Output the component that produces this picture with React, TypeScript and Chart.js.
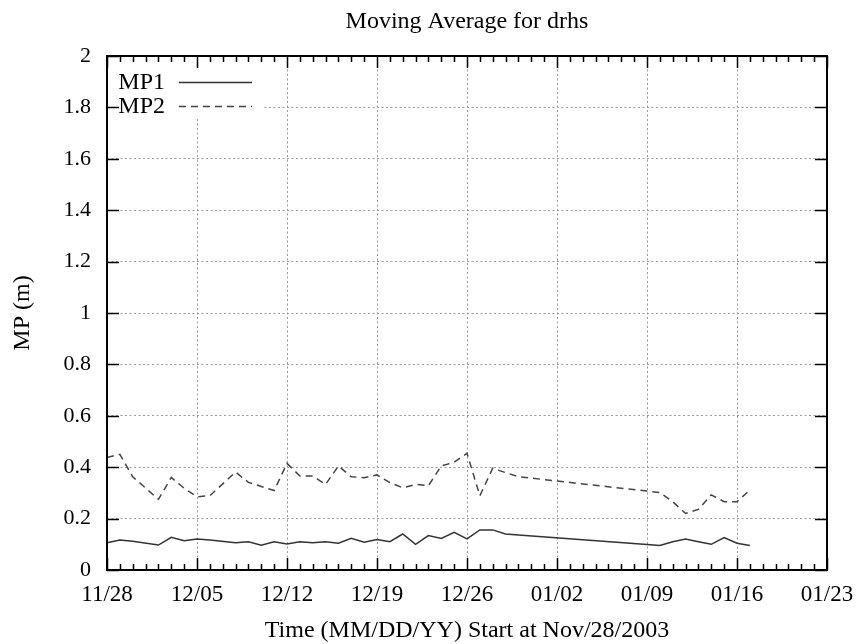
import React, { useEffect, useRef } from "react";
import { Chart, registerables } from "chart.js";

Chart.register(...registerables);

const chartTitle = "Moving Average for drhs";
const xAxisTitle = "Time (MM/DD/YY) Start at Nov/28/2003";
const yAxisTitle = "MP (m)";
const xTickLabels = ["11/28", "12/05", "12/12", "12/19", "12/26", "01/02", "01/09", "01/16", "01/23"];
const seriesNames = ["MP1", "MP2"];

// day offsets from Nov/28/2003
const days = [0, 1, 2, 4, 5, 6, 7, 8, 10, 11, 12, 13, 14, 15, 16, 17, 18, 19, 20, 21, 22, 23, 24, 25, 26, 27, 28, 29, 30, 31, 32, 42, 43, 44, 45, 46, 47, 48, 49, 50];
const mp1 = [0.106, 0.117, 0.112, 0.097, 0.127, 0.114, 0.121, 0.117, 0.106, 0.11, 0.096, 0.11, 0.101, 0.11, 0.106, 0.11, 0.104, 0.123, 0.108, 0.119, 0.11, 0.14, 0.1, 0.134, 0.123, 0.147, 0.121, 0.156, 0.156, 0.14, 0.136, 0.099, 0.095, 0.11, 0.121, 0.11, 0.1, 0.126, 0.104, 0.095];
const mp2 = [0.438, 0.45, 0.363, 0.275, 0.36, 0.318, 0.285, 0.289, 0.381, 0.341, 0.325, 0.309, 0.415, 0.366, 0.366, 0.333, 0.405, 0.363, 0.359, 0.37, 0.34, 0.32, 0.333, 0.328, 0.405, 0.419, 0.454, 0.289, 0.396, 0.379, 0.363, 0.307, 0.301, 0.266, 0.22, 0.236, 0.292, 0.266, 0.266, 0.311];

const FONT = "'Liberation Serif', 'Times New Roman', serif";

const overlayPlugin = {
  id: "gnuplotOverlay",
  beforeDatasetsDraw(chart: any) {
    const { ctx, chartArea } = chart;
    ctx.save();
    ctx.fillStyle = "#fff";
    ctx.fillRect(chartArea.left + 1, chartArea.top + 1, 156, 62);
    ctx.restore();
  },
  afterDraw(chart: any) {
    const { ctx, chartArea } = chart;
    const xs = chart.scales.x;
    const ys = chart.scales.y;
    const { left, right, top, bottom } = chartArea;
    ctx.save();
    ctx.strokeStyle = "#000";
    ctx.lineWidth = 1.5;
    ctx.beginPath();
    for (let d = xs.min; d <= xs.max; d++) {
      const x = Math.round(xs.getPixelForValue(d)) + 0.5;
      const len = d % 7 === 0 ? 12 : 6;
      ctx.moveTo(x, bottom);
      ctx.lineTo(x, bottom - len);
      ctx.moveTo(x, top);
      ctx.lineTo(x, top + len);
    }
    ys.ticks.forEach((t: any) => {
      const y = Math.round(ys.getPixelForValue(t.value)) + 0.5;
      ctx.moveTo(left, y);
      ctx.lineTo(left + 12, y);
      ctx.moveTo(right, y);
      ctx.lineTo(right - 12, y);
    });
    ctx.stroke();
    ctx.lineWidth = 2;
    ctx.strokeRect(left, top, right - left, bottom - top);

    ctx.fillStyle = "#000";
    ctx.textAlign = "center";
    ctx.textBaseline = "alphabetic";
    ctx.font = `24px ${FONT}`;
    const cx = (left + right) / 2;
    ctx.fillText(chartTitle, cx, 28);
    ctx.fillText(xAxisTitle, cx, 637);
    ctx.save();
    ctx.translate(29, (top + bottom) / 2);
    ctx.rotate(-Math.PI / 2);
    ctx.fillText(yAxisTitle, 0, 0);
    ctx.restore();

    ctx.font = `24px ${FONT}`;
    ctx.textAlign = "right";
    const rows = [82, 106];
    chart.data.datasets.forEach((ds: any, i: number) => {
      const y = rows[i];
      ctx.fillStyle = "#000";
      ctx.fillText(ds.label, 165, y + 7);
      ctx.beginPath();
      ctx.strokeStyle = ds.borderColor;
      ctx.lineWidth = ds.borderWidth;
      ctx.setLineDash(ds.borderDash || []);
      ctx.moveTo(179, y + 0.5);
      ctx.lineTo(252, y + 0.5);
      ctx.stroke();
      ctx.setLineDash([]);
    });
    ctx.restore();
  },
};

export default function App() {
  const ref = useRef<HTMLCanvasElement | null>(null);
  useEffect(() => {
    document.body.style.margin = "0";
    const canvas = ref.current!;
    const chart = new Chart(canvas, {
      type: "line",
      data: {
        datasets: [
          {
            label: seriesNames[0],
            data: days.map((d, i) => ({ x: d, y: mp1[i] })),
            borderColor: "#333",
            borderWidth: 1.5,
            pointRadius: 0,
            tension: 0,
            fill: false,
          },
          {
            label: seriesNames[1],
            data: days.map((d, i) => ({ x: d, y: mp2[i] })),
            borderColor: "#444",
            borderWidth: 1.5,
            borderDash: [7, 5],
            pointRadius: 0,
            tension: 0,
            fill: false,
          },
        ],
      },
      options: {
        responsive: false,
        animation: false,
        layout: { padding: { top: 56, right: 30, left: 0, bottom: 0 } },
        plugins: { legend: { display: false }, title: { display: false }, tooltip: { enabled: false } },
        scales: {
          x: {
            type: "linear",
            min: 0,
            max: 56,
            afterFit: (s: any) => { s.height = 74; s.paddingLeft = 0; s.paddingRight = 0; },
            ticks: {
              stepSize: 7,
              autoSkip: false,
              maxRotation: 0,
              minRotation: 0,
              padding: 11,
              color: "#000",
              font: { family: FONT, size: 23 },
              callback: (v: any) => xTickLabels[Math.round(Number(v) / 7)] ?? "",
            },
            grid: { color: "#999", lineWidth: 1, drawTicks: false },
            border: { display: false, dash: [2, 2.5] },
          },
          y: {
            type: "linear",
            min: 0,
            max: 2,
            afterFit: (s: any) => { s.width = 107; s.paddingTop = 0; s.paddingBottom = 0; },
            ticks: {
              stepSize: 0.2,
              padding: 16,
              color: "#000",
              font: { family: FONT, size: 22 },
              callback: (v: any) => String(Number(Number(v).toFixed(1))),
            },
            grid: { color: "#999", lineWidth: 1, drawTicks: false },
            border: { display: false, dash: [2, 2.5] },
          },
        },
      },
      plugins: [overlayPlugin],
    });
    return () => chart.destroy();
  }, []);
  return <canvas ref={ref} width={857} height={644} style={{ display: "block" }} />;
}
